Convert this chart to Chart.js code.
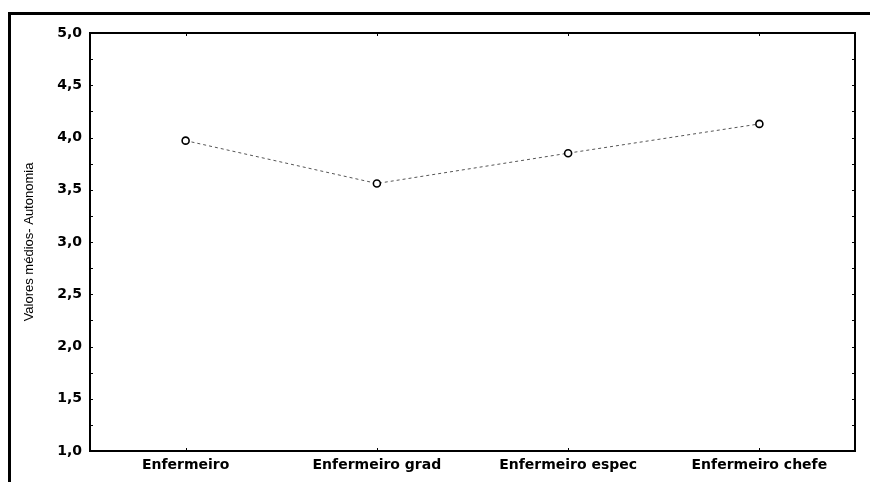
<!DOCTYPE html>
<html>
<head>
<meta charset="utf-8">
<script src="https://cdn.jsdelivr.net/npm/chart.js@4/dist/chart.umd.min.js"></script>
<style>
html,body{margin:0;padding:0;background:#fff;}
#wrap{position:relative;width:870px;height:482px;}
</style>
</head>
<body>
<div id="wrap"><canvas id="c" width="870" height="482"></canvas></div>
<script>
const categories = ["Enfermeiro", "Enfermeiro grad", "Enfermeiro espec", "Enfermeiro chefe"];
const meanValues = [3.97, 3.56, 3.85, 4.13];
const yTickValues = [1.0, 1.5, 2.0, 2.5, 3.0, 3.5, 4.0, 4.5, 5.0];
const yTitle = "Valores médios- Autonomia";

const framePlugin = {
  id: 'frame',
  beforeDraw(chart) {
    const ctx = chart.ctx;
    ctx.save();
    ctx.strokeStyle = '#000';
    ctx.lineWidth = 3;
    ctx.beginPath();
    ctx.moveTo(9.5, 482);
    ctx.lineTo(9.5, 13.5);
    ctx.lineTo(870, 13.5);
    ctx.stroke();
    ctx.restore();
  },
  afterDraw(chart) {
    const ctx = chart.ctx;
    const a = chart.chartArea;
    const y = chart.scales.y, x = chart.scales.x;
    ctx.save();
    ctx.strokeStyle = '#000';
    ctx.lineWidth = 2;
    ctx.strokeRect(a.left, a.top, a.right - a.left, a.bottom - a.top);
    ctx.lineWidth = 1;
    for (let v = 1.0; v <= 5.0001; v += 0.25) {
      const py = Math.round(y.getPixelForValue(v)) + 0.5;
      ctx.beginPath();
      ctx.moveTo(a.left, py); ctx.lineTo(a.left + 3, py);
      ctx.moveTo(a.right, py); ctx.lineTo(a.right - 3, py);
      ctx.stroke();
    }
    categories.forEach((c, i) => {
      const px = Math.round(x.getPixelForValue(i)) + 0.5;
      ctx.beginPath();
      ctx.moveTo(px, a.top); ctx.lineTo(px, a.top + 3);
      ctx.moveTo(px, a.bottom); ctx.lineTo(px, a.bottom - 3);
      ctx.stroke();
    });
    ctx.restore();
  }
};

new Chart(document.getElementById('c'), {
  type: 'line',
  data: {
    labels: categories,
    datasets: [{
      data: meanValues,
      borderColor: '#555',
      borderWidth: 1,
      borderDash: [3, 3],
      fill: false,
      tension: 0,
      pointRadius: 3.5,
      pointBorderWidth: 1.6,
      pointBorderColor: '#000',
      pointBackgroundColor: '#fff'
    }]
  },
  options: {
    responsive: false,
    animation: false,
    layout: { padding: { top: 33, right: 15, left: 0, bottom: 0 } },
    plugins: { legend: { display: false }, tooltip: { enabled: false } },
    scales: {
      x: {
        type: 'category',
        offset: true,
        grid: { display: false, drawTicks: false },
        border: { display: false },
        ticks: {
          color: '#000',
          padding: 6,
          maxRotation: 0,
          font: { family: 'DejaVu Sans', size: 14, weight: 'bold' }
        },
        afterFit(s) { s.height = 31; }
      },
      y: {
        min: 1, max: 5,
        afterBuildTicks(s) { s.ticks = yTickValues.map(v => ({ value: v })); },
        grid: { display: false, drawTicks: false },
        border: { display: false },
        ticks: {
          color: '#000',
          padding: 8,
          font: { family: 'DejaVu Sans', size: 14, weight: 'bold' },
          callback: (v) => Number(v).toFixed(1).replace('.', ',')
        },
        title: {
          display: true,
          text: yTitle,
          color: '#000',
          padding: { top: 22, bottom: 0 },
          font: { family: 'Liberation Sans', size: 13 }
        },
        afterFit(s) { s.width = 90; }
      }
    }
  },
  plugins: [framePlugin]
});
</script>
</body>
</html>
